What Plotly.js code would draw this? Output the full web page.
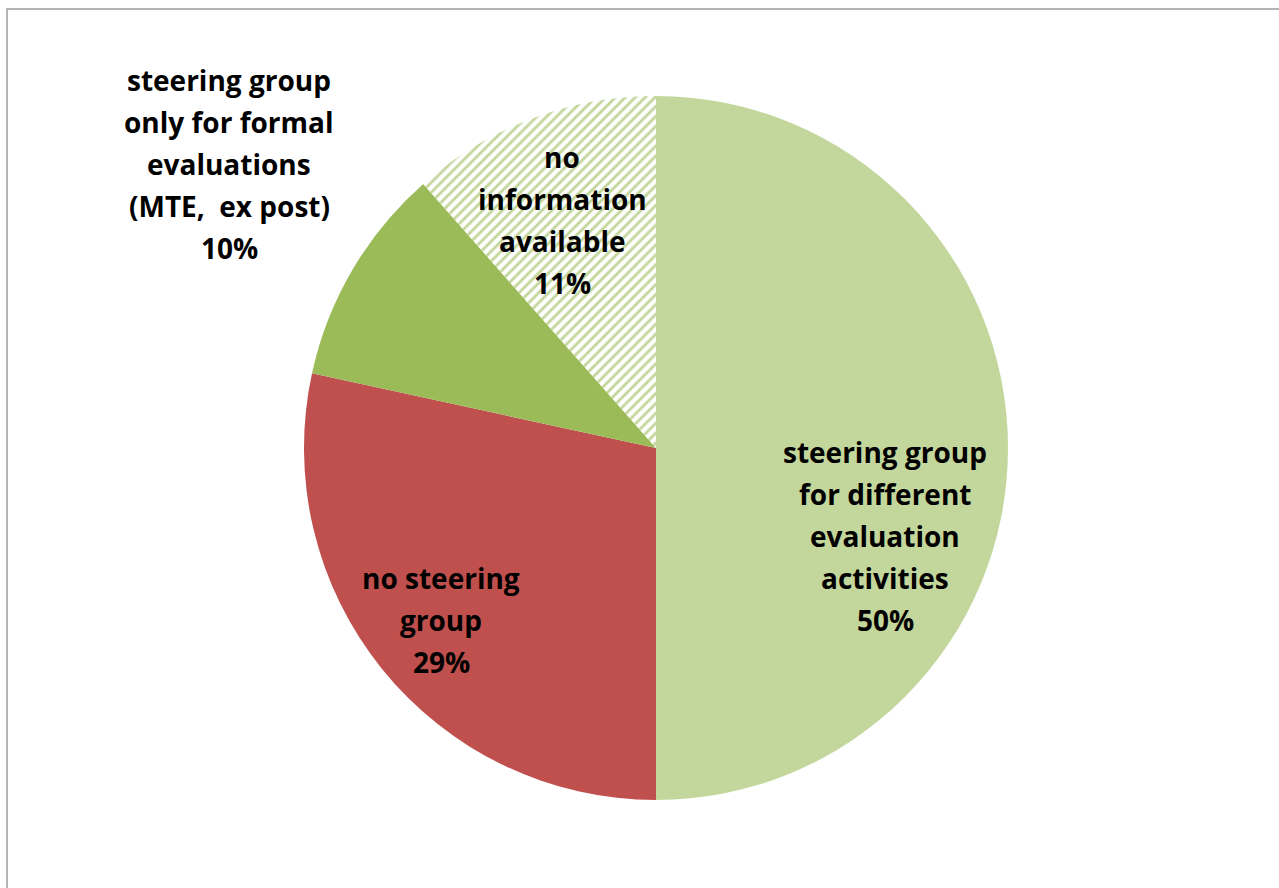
<!DOCTYPE html>
<html>
<head>
<meta charset="utf-8">
<script src="https://cdn.plot.ly/plotly-3.0.1.min.js"></script>
<style>
  html, body { margin: 0; padding: 0; background: #fff; }
  #frame { position: absolute; left: 0; top: 0; width: 1279px; height: 888px; }
  #edge { position: absolute; left: 6px; top: 8px; width: 1273px; height: 880px;
          border-left: 2px solid #b4b4b4; border-top: 2px solid #b4b4b4; box-sizing: border-box; pointer-events: none; }
  #chart { position: absolute; left: 0; top: 0; width: 1279px; height: 888px; }
</style>
</head>
<body>
<div id="frame">
  <div id="chart"></div>
  <div id="edge"></div>
</div>
<script>
const categories = [
  "steering group<br>for different<br>evaluation<br>activities",
  "no steering<br>group",
  "steering group<br>only for formal<br>evaluations<br>(MTE,  ex post)",
  "no<br>information<br>available"
];
const values = [50, 28.4, 10.1, 11.5];
const pctLabels = ["50%", "29%", "10%", "11%"];
const colors = ["#C3D69B", "#C0504D", "#9BBB59", "#ffffff"];

const W = 1279, H = 888, cx = 656, cy = 448, R = 352;

const trace = {
  type: "pie",
  values: values,
  labels: categories,
  sort: false,
  direction: "clockwise",
  rotation: 0,
  textinfo: "none",
  hoverinfo: "label+percent",
  marker: {
    colors: colors,
    line: { width: 0 },
    pattern: {
      shape: ["", "", "", "/"],
      fgcolor: ["#C3D69B", "#C0504D", "#9BBB59", "#C3D69B"],
      bgcolor: ["#C3D69B", "#C0504D", "#9BBB59", "#ffffff"],
      size: 7,
      solidity: 0.4
    }
  },
  domain: {
    x: [(cx - R) / W, (cx + R) / W],
    y: [(H - cy - R) / H, (H - cy + R) / H]
  }
};

// label block placement: centre x and first-line y (pixels), line pitch
const labelPos = [
  { x: 885, y: 452 },
  { x: 441, y: 578 },
  { x: 229, y: 80 },
  { x: 562, y: 157 }
];
const pitch = 42;
const annotations = [];
categories.forEach((c, i) => {
  const lines = c.split("<br>").concat([pctLabels[i]]);
  lines.forEach((t, j) => {
    annotations.push({
      x: labelPos[i].x / W,
      y: 1 - (labelPos[i].y + j * pitch) / H,
      xref: "paper", yref: "paper",
      xanchor: "center", yanchor: "middle",
      showarrow: false,
      text: t,
      font: { family: "Open Sans, Liberation Sans, sans-serif", size: 28, color: "#000", weight: 700 }
    });
  });
});

const layout = {
  width: W, height: H,
  margin: { l: 0, r: 0, t: 0, b: 0 },
  paper_bgcolor: "#fff",
  showlegend: false,
  annotations: annotations
};

Plotly.newPlot("chart", [trace], layout, { displayModeBar: false, staticPlot: true });
</script>
</body>
</html>
